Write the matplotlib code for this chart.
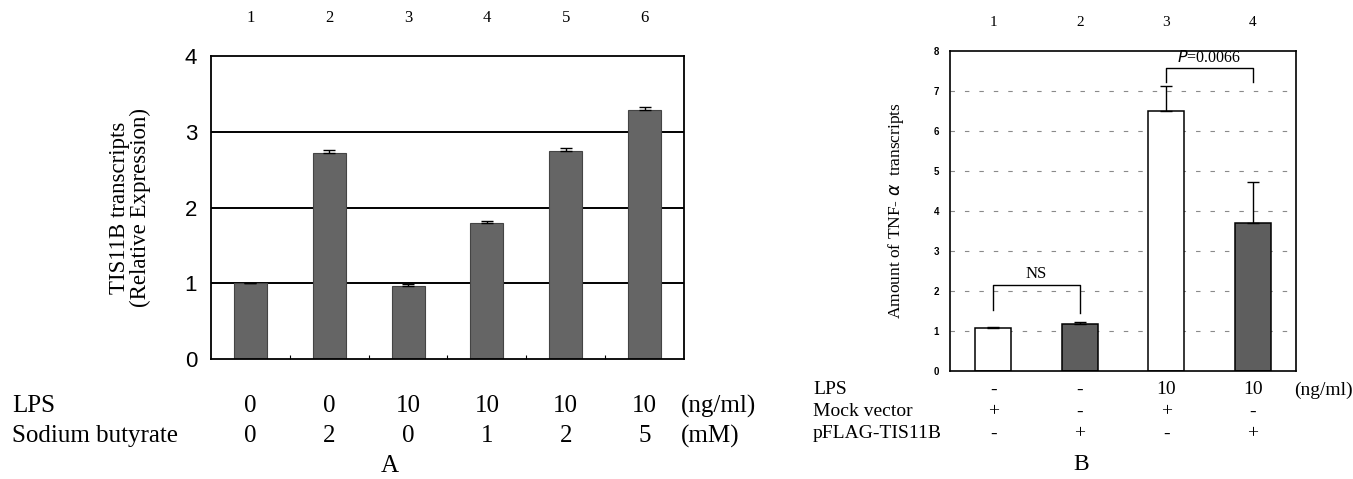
import matplotlib
matplotlib.use("Agg")
import matplotlib.pyplot as plt
import matplotlib.transforms as mtransforms
import numpy as np

# ---------------- data ----------------
lanes_a = ["1", "2", "3", "4", "5", "6"]
tis11b_expr = [1.00, 2.72, 0.97, 1.79, 2.75, 3.29]
tis11b_err = [0.00, 0.04, 0.02, 0.03, 0.04, 0.04]
lps_a = ["0", "0", "10", "10", "10", "10"]
butyrate_a = ["0", "2", "0", "1", "2", "5"]
yticks_a = [0, 1, 2, 3, 4]

lanes_b = ["1", "2", "3", "4"]
tnf_amount = [1.07, 1.17, 6.50, 3.71]
tnf_err = [0.02, 0.06, 0.63, 1.02]
tnf_fill = ["white", "#5e5e5e", "white", "#5e5e5e"]
lps_b = ["-", "-", "10", "10"]
mock_b = ["+", "-", "+", "-"]
pflag_b = ["-", "+", "-", "+"]
yticks_b = [0, 1, 2, 3, 4, 5, 6, 7, 8]

SERIF = ["Liberation Serif", "DejaVu Serif"]
NARROW = ["Liberation Sans Narrow", "Liberation Sans", "DejaVu Sans"]

fig = plt.figure(figsize=(13.53, 4.79), dpi=100)

def fx(px):
    return px / 1353.0

def fy(py):
    return 1 - py / 479.0

# ---------------- Panel A ----------------
axA = fig.add_axes([fx(211), fy(359), fx(684) - fx(211), fy(56) - fy(359)])
xa = np.arange(len(lanes_a)) + 0.5
axA.set_xlim(0, len(lanes_a))
axA.set_ylim(0, 4)
for g in [1, 2, 3]:
    axA.axhline(g, color="black", lw=1.4, zorder=1)
axA.bar(xa, tis11b_expr, width=0.42, color="#656565", edgecolor="#444444",
        lw=0.8, zorder=2)
axA.errorbar(xa, tis11b_expr, yerr=[np.zeros(len(xa)), tis11b_err], fmt="none",
             ecolor="black", elinewidth=1.0, capsize=4, capthick=1.0, zorder=3)
axA.set_yticks(yticks_a)
axA.set_yticklabels([str(v) for v in yticks_a], family=NARROW, fontsize=16)
axA.tick_params(axis="y", length=0, pad=10)
axA.set_xticks(np.arange(1, len(lanes_a)))
axA.set_xticklabels([])
axA.tick_params(axis="x", direction="in", length=3, width=0.8)
for s in axA.spines.values():
    s.set_linewidth(1.3)
axA.set_ylabel("TIS11B transcripts\n(Relative Expression)", family=SERIF,
               fontsize=16.5, labelpad=24, linespacing=1.0)

blendA = mtransforms.blended_transform_factory(axA.transData, fig.transFigure)
for x, lab in zip(xa, lanes_a):
    axA.text(x, fy(18), lab, transform=blendA, ha="center", va="center",
             family=SERIF, fontsize=12)
for x, a, b in zip(xa, lps_a, butyrate_a):
    axA.text(x, fy(406), a, transform=blendA, ha="center", va="center",
             family=SERIF, fontsize=18)
    axA.text(x, fy(436), b, transform=blendA, ha="center", va="center",
             family=SERIF, fontsize=18)
fig.text(fx(12), fy(406), "LPS", ha="left", va="center", family=SERIF, fontsize=18)
fig.text(fx(12), fy(436), "Sodium butyrate", ha="left", va="center", family=SERIF, fontsize=18)
fig.text(fx(681), fy(406), "(ng/ml)", ha="left", va="center", family=SERIF, fontsize=18)
fig.text(fx(681), fy(436), "(mM)", ha="left", va="center", family=SERIF, fontsize=18)
fig.text(fx(390), fy(466), "A", ha="center", va="center", family=SERIF, fontsize=18)

# ---------------- Panel B ----------------
axB = fig.add_axes([fx(950), fy(371), fx(1296) - fx(950), fy(51) - fy(371)])
xb = np.arange(len(lanes_b)) + 0.5
axB.set_xlim(0, len(lanes_b))
axB.set_ylim(0, 8)
for g in range(1, 8):
    axB.axhline(g, color="#8a8a8a", lw=0.8, ls=(0, (4, 9)), zorder=1)
axB.bar(xb, tnf_amount, width=0.42, color=tnf_fill, edgecolor="black",
        lw=1.1, zorder=2)
axB.errorbar(xb, tnf_amount, yerr=[np.zeros(len(xb)), tnf_err], fmt="none",
             ecolor="black", elinewidth=1.0, capsize=4, capthick=1.0, zorder=3)
axB.set_yticks(yticks_b)
axB.set_yticklabels([str(v) for v in yticks_b], family=NARROW, fontsize=7,
                    fontweight="bold")
axB.tick_params(axis="y", length=0, pad=8)
axB.set_xticks([])
for s in axB.spines.values():
    s.set_linewidth(1.2)
axB.set_ylabel(r"Amount of TNF- $\alpha$  transcripts", family=SERIF,
               fontsize=12.5, labelpad=20)

# significance brackets
axB.plot([xb[0], xb[0], xb[1], xb[1]], [1.52, 2.15, 2.15, 1.46], color="black", lw=1.0)
axB.text((xb[0] + xb[1]) / 2, 2.22, "NS", ha="center", va="bottom",
         family=SERIF, fontsize=12)
axB.plot([xb[2], xb[2], xb[3], xb[3]], [7.23, 7.57, 7.57, 7.23], color="black", lw=1.0)
axB.text((xb[2] + xb[3]) / 2, 7.62, r"$\it{P}$=0.0066", ha="center", va="bottom",
         family=SERIF, fontsize=11.5)

blendB = mtransforms.blended_transform_factory(axB.transData, fig.transFigure)
for x, lab in zip(xb, lanes_b):
    axB.text(x, fy(22), lab, transform=blendB, ha="center", va="center",
             family=SERIF, fontsize=11)
for x, a, m, p in zip(xb, lps_b, mock_b, pflag_b):
    axB.text(x, fy(390), a, transform=blendB, ha="center", va="center",
             family=SERIF, fontsize=14)
    axB.text(x, fy(412), m, transform=blendB, ha="center", va="center",
             family=SERIF, fontsize=14)
    axB.text(x, fy(434), p, transform=blendB, ha="center", va="center",
             family=SERIF, fontsize=14)
fig.text(fx(813), fy(390), "LPS", ha="left", va="center", family=SERIF, fontsize=14)
fig.text(fx(813), fy(412), "Mock vector", ha="left", va="center", family=SERIF, fontsize=14)
fig.text(fx(813), fy(434), "pFLAG-TIS11B", ha="left", va="center", family=SERIF, fontsize=14)
fig.text(fx(1294), fy(390), "(ng/ml)", ha="left", va="center", family=SERIF, fontsize=14)
fig.text(fx(1081), fy(465), "B", ha="center", va="center", family=SERIF, fontsize=17)

fig.savefig("out.png", dpi=100)
